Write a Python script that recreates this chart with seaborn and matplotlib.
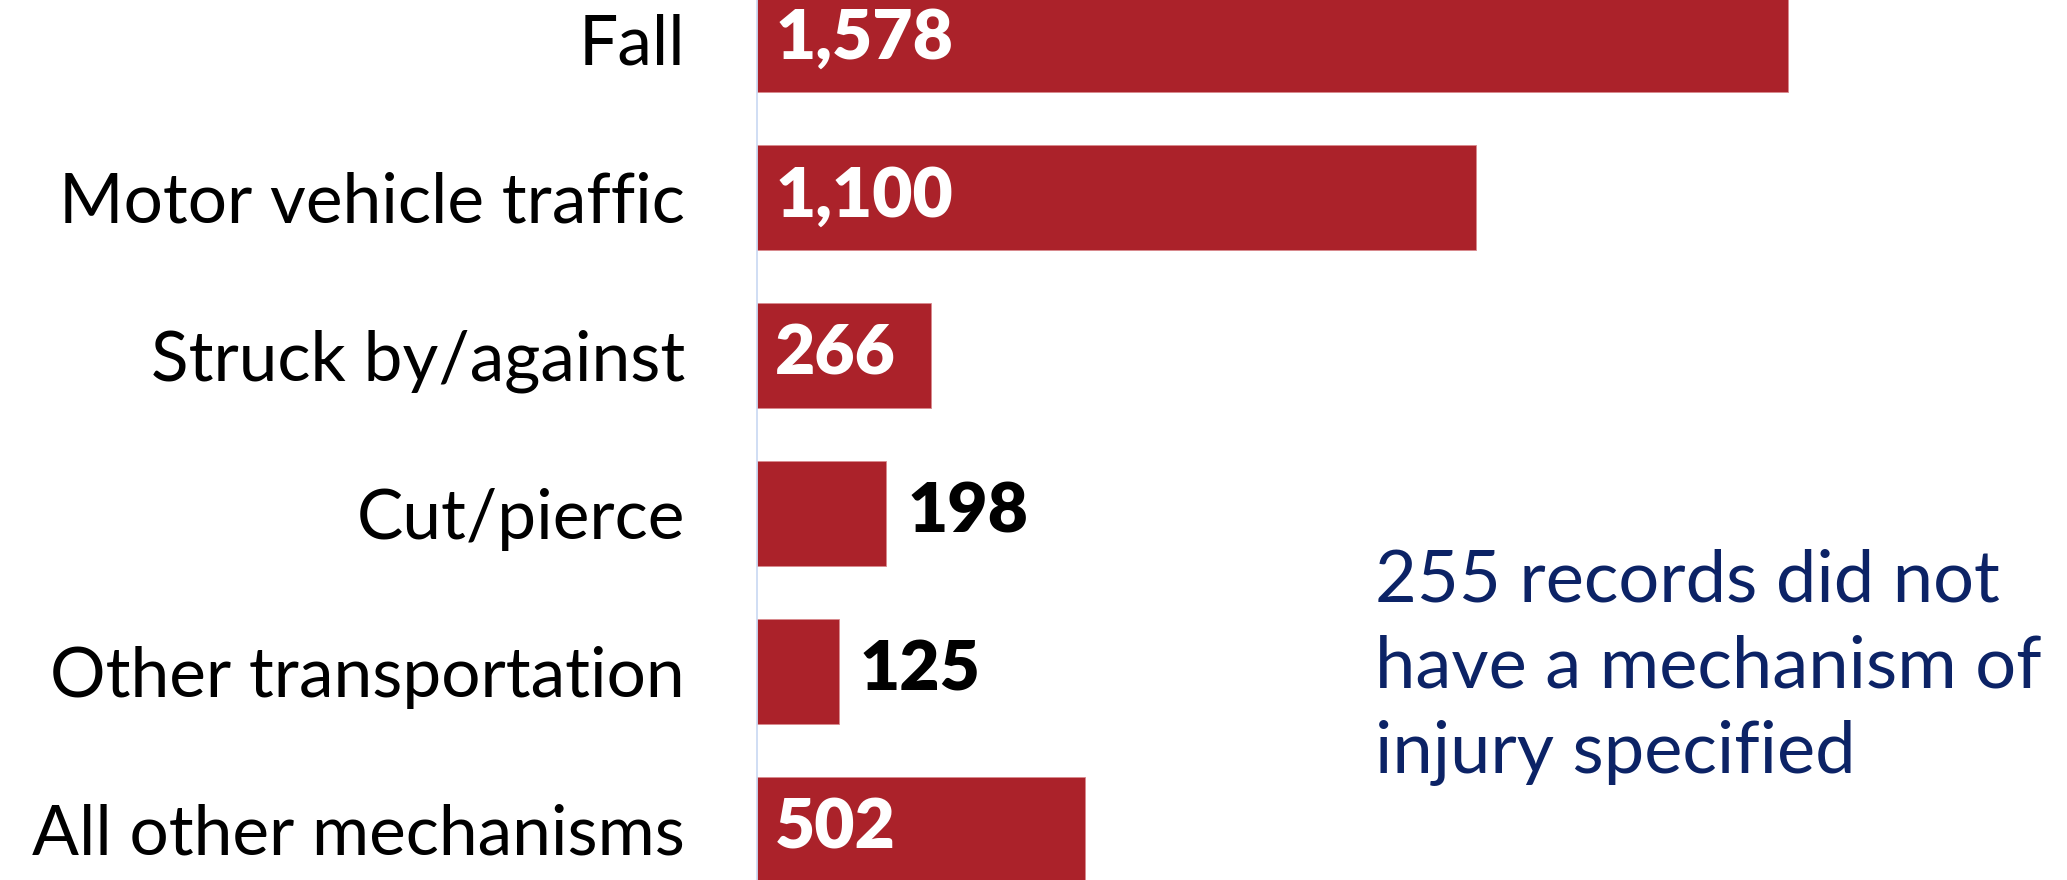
import matplotlib

matplotlib.use("Agg")
import matplotlib.pyplot as plt
import pandas as pd
import seaborn as sns

CATEGORIES = [
    "Fall",
    "Motor vehicle traffic",
    "Struck by/against",
    "Cut/pierce",
    "Other transportation",
    "All other mechanisms",
]
COUNTS = [1578, 1100, 266, 198, 125, 502]
NOTE = "255 records did not\nhave a mechanism of\ninjury specified"

BAR_COLOR = "#AB222A"
NOTE_COLOR = "#0C2366"
AXIS_COLOR = "#C8D8F2"

df = pd.DataFrame({"mecanismo": CATEGORIES, "casos": COUNTS})

sns.set_theme(style="white")
plt.rcParams["font.family"] = ["Lato", "DejaVu Sans"]

fig = plt.figure(figsize=(20.67, 8.8), dpi=100)
ax = fig.add_axes([757 / 2067, 0, 1 - 757 / 2067, 1])

sns.barplot(data=df, x="casos", y="mecanismo", orient="h", color=BAR_COLOR,
            width=0.665, saturation=1, edgecolor="#D98A8E", linewidth=0.6, ax=ax)

ax.set_xlim(0, 2005)
ax.set_ylim(5.32, -0.25)
ax.set_xlabel("")
ax.set_ylabel("")
ax.set_xticks([])
ax.tick_params(axis="y", length=0, pad=52, labelsize=50, labelcolor="black")
for side in ["top", "right", "bottom"]:
    ax.spines[side].set_visible(False)
ax.spines["left"].set_color(AXIS_COLOR)
ax.spines["left"].set_linewidth(1.2)

# etiquetas: blancas dentro de las barras grandes, negras fuera de las cortas
for i, valor in enumerate(COUNTS):
    texto = f"{valor:,}"
    if valor > 200:
        ax.annotate(texto, (0, i), xytext=(13, 0), textcoords="offset points",
                    ha="left", va="center", color="white", fontsize=50, fontweight="heavy")
    else:
        ax.annotate(texto, (valor, i), xytext=(15, 0), textcoords="offset points",
                    ha="left", va="center", color="black", fontsize=50, fontweight="heavy")

fig.text(1375 / 2067, 1 - 548 / 880, NOTE, ha="left", va="top", color=NOTE_COLOR,
         fontsize=52, linespacing=1.4)

fig.savefig("out.png", dpi=100)
